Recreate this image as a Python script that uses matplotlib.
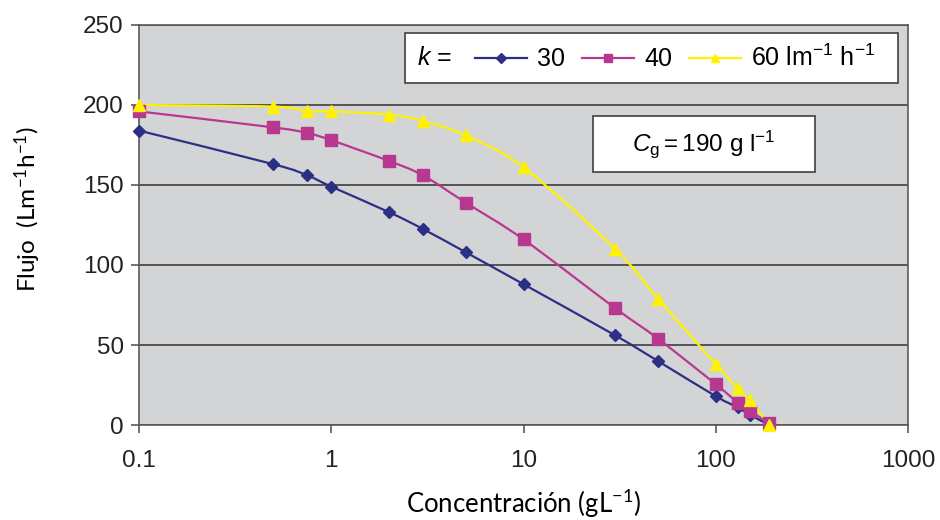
import numpy as np
import matplotlib
matplotlib.use("Agg")
import matplotlib.pyplot as plt
from matplotlib.path import Path
from matplotlib.patches import PathPatch, Rectangle
from matplotlib.lines import Line2D

# Flux vs. concentration for three mass-transfer coefficients k
conc = [0.1, 0.5, 0.75, 1, 2, 3, 5, 10, 30, 50, 100, 130, 150, 190]
flux_k30 = [184, 163, 156, 149, 133, 122.5, 108, 88, 56, 40, 18, 11, 6.5, 0]
flux_k40 = [196, 186, 182.5, 178, 165, 156, 139, 116, 73, 54, 25.5, 14, 9, 1]
flux_k60 = [200, 199, 196, 196, 194, 190, 181, 161, 110, 79, 38, 23, 15.5, 0]

series_labels = ["30", "40", r"60 lm$\mathregular{^{-1}}$ h$\mathregular{^{-1}}$"]
colors = ["#2B2F86", "#B8378F", "#FFF200"]
markers = ["D", "s", "^"]
marker_sizes = [6.5, 8, 8]

x_ticks = [0.1, 1, 10, 100, 1000]
x_tick_labels = ["0.1", "1", "10", "100", "1000"]
y_ticks = [0, 50, 100, 150, 200, 250]

plt.rcParams["mathtext.fontset"] = "custom"
plt.rcParams["mathtext.rm"] = "Liberation Sans"
plt.rcParams["mathtext.it"] = "Liberation Sans:italic"

W, H = 940, 520
fig = plt.figure(figsize=(W / 100, H / 100), dpi=100)
left, right, top, bottom = 139, 908, 25, 425
ax = fig.add_axes([left / W, 1 - bottom / H, (right - left) / W, (bottom - top) / H])
ax.set_facecolor("#D3D4D6")
ax.set_xscale("log")
ax.set_xlim(0.1, 1000)
ax.set_ylim(0, 250)

# pixel scale used to make the curve smoothing isotropic
px_per_decade = (right - left) / 4.0
px_per_unit = (bottom - top) / 250.0


def smooth_path(xs, ys):
    u = np.log10(np.asarray(xs, float)) * px_per_decade
    v = np.asarray(ys, float) * px_per_unit
    pts = np.column_stack([u, v])
    n = len(pts)
    verts = [pts[0]]
    codes = [Path.MOVETO]
    for i in range(n - 1):
        p0 = pts[i - 1] if i > 0 else pts[i]
        p1, p2 = pts[i], pts[i + 1]
        p3 = pts[i + 2] if i + 2 < n else pts[i + 1]
        c1 = p1 + (p2 - p0) / 6.0
        c2 = p2 - (p3 - p1) / 6.0
        verts += [c1, c2, p2]
        codes += [Path.CURVE4] * 3
    verts = np.array(verts)
    verts[:, 0] = 10 ** (verts[:, 0] / px_per_decade)
    verts[:, 1] = verts[:, 1] / px_per_unit
    return Path(verts, codes)


for vals, c, m, ms in zip([flux_k30, flux_k40, flux_k60], colors, markers, marker_sizes):
    ax.add_patch(PathPatch(smooth_path(conc, vals), fill=False, edgecolor=c, lw=1.6, zorder=3))
    ax.plot(conc, vals, linestyle="none", marker=m, ms=ms, color=c, mec=c, zorder=4, clip_on=False)

ax.set_yticks(y_ticks)
ax.set_xticks(x_ticks)
ax.set_xticklabels(x_tick_labels)
ax.xaxis.set_minor_locator(matplotlib.ticker.NullLocator())
ax.grid(axis="y", color="#303030", lw=1.1)
ax.set_axisbelow(True)
for s in ax.spines.values():
    s.set_color("#5A5A5A")
    s.set_linewidth(1.2)
ax.tick_params(axis="both", direction="out", length=6, width=1.2, color="#5A5A5A",
               labelsize=17.5, labelcolor="#222222")
ax.tick_params(axis="x", pad=12)
ax.tick_params(axis="y", pad=5)
for lab in ax.get_xticklabels() + ax.get_yticklabels():
    lab.set_fontfamily("Liberation Sans")

ax.set_xlabel(r"Concentración (gL$\mathregular{^{-1}}$)", fontsize=18.5, family="Lato", labelpad=11)
ax.set_ylabel(r"Flujo  (Lm$\mathregular{^{-1}}$h$\mathregular{^{-1}}$)", fontsize=17.5, family="Lato")
ax.yaxis.set_label_coords(-0.125, 0.54)

# legend frame with the "k =" prefix
ax.add_patch(Rectangle((0.346, 0.855), 0.641, 0.125, transform=ax.transAxes,
                       facecolor="white", edgecolor="#404040", lw=1.2, zorder=5))
ax.text(0.362, 0.917, r"$\mathit{k}$ =", transform=ax.transAxes, fontsize=18,
        family="Liberation Sans", va="center", ha="left", zorder=6)
handles = [Line2D([], [], color=c, marker=m, ms=ms * 0.8, lw=1.6)
           for c, m, ms in zip(colors, markers, marker_sizes)]
leg = ax.legend(handles, series_labels, loc="center left", bbox_to_anchor=(0.437, 0.917),
                ncol=3, frameon=False, borderpad=0, borderaxespad=0, handlelength=2.08,
                handletextpad=0.4, columnspacing=0.68,
                prop={"family": "Liberation Sans", "size": 18})
leg.set_zorder(7)

# gel concentration annotation
ax.add_patch(Rectangle((0.590, 0.6325), 0.289, 0.14, transform=ax.transAxes,
                       facecolor="white", edgecolor="#404040", lw=1.2, zorder=5))
ax.text(0.7345, 0.7025, r"$\mathit{C}_{\mathregular{g}}\mathregular{=190\ g\ l^{-1}}$",
        transform=ax.transAxes, fontsize=17.5, family="Liberation Sans",
        ha="center", va="center", zorder=6)

fig.savefig("out.png", dpi=100, facecolor="white")
